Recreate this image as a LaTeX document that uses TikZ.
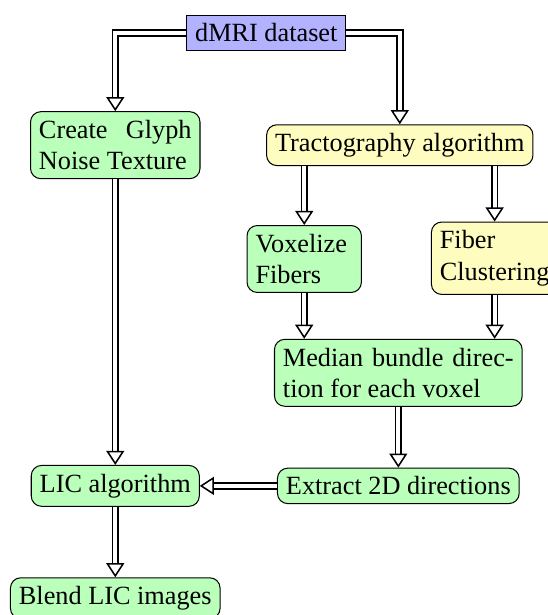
\documentclass[tikz,border=0pt]{standalone}
\usepackage{fontspec}
\setmainfont{Liberation Serif}
\usetikzlibrary{arrows.meta,positioning}

\begin{document}
\begin{tikzpicture}[>=Stealth, font=\fontsize{10.25pt}{12.3pt}\selectfont, data/.style={draw, fill=blue!30, inner sep=3.3pt}, stage/.style={draw, rounded corners=4pt, fill=green!27, inner sep=3.3pt}, tract/.style={draw, rounded corners=4pt, fill=yellow!25, inner sep=3.3pt}, flow/.style={double, double distance=1.5pt, line width=0.7pt, -{Triangle[open, length=5.5pt, width=7pt, line width=0.6pt]}}]
\useasboundingbox (0,0) rectangle (7.51,-8.43);
\node[data] (dmri) at (3.65,-0.45) {dMRI dataset};
\node[stage, text width=59.5pt, align=justify] (glyph) at (1.58,-1.99) {Create Glyph Noise Texture};
\node[tract] (tracto) at (5.48,-1.99) {Tractography algorithm};
\node[stage, text width=38pt, align=left] (voxel) at (4.17,-3.55) {Voxelize Fibers};
\node[tract, align=left] (cluster) at (6.78,-3.54) {Fiber\\Clustering};
\node[stage, text width=90pt, align=justify] (median) at (5.46,-5.11) {Median bundle direction for each voxel};
\node[stage] (extract) at (5.46,-6.66) {Extract 2D directions};
\node[stage] (lic) at (1.58,-6.66) {LIC algorithm};
\node[stage] (blend) at (1.58,-8.2) {Blend LIC images};
\draw[flow] (dmri.west) -| (glyph.north);
\draw[flow] (dmri.east) -| (tracto.north);
\draw[flow] (tracto.south -| voxel) -- (voxel.north);
\draw[flow] (tracto.south -| cluster) -- (cluster.north);
\draw[flow] (voxel.south) -- (median.north -| voxel);
\draw[flow] (cluster.south) -- (median.north -| cluster);
\draw[flow] (median.south) -- (extract.north);
\draw[flow] (extract.west) -- (lic.east);
\draw[flow] (glyph.south) -- (lic.north);
\draw[flow] (lic.south) -- (blend.north);
\end{tikzpicture}
\end{document}
